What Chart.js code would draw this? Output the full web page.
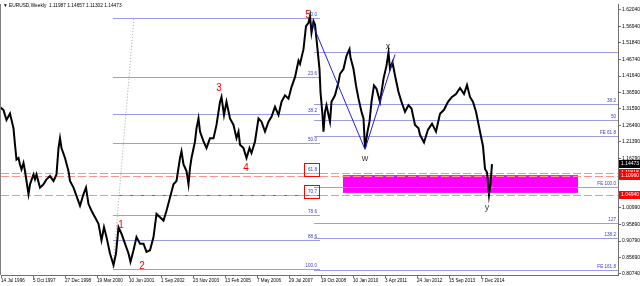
<!DOCTYPE html>
<html><head><meta charset="utf-8">
<script src="https://cdn.jsdelivr.net/npm/chart.js@4/dist/chart.umd.min.js"></script>
<style>html,body{margin:0;padding:0;background:#fff;overflow:hidden}</style>
</head><body><canvas id="c" width="640" height="286"></canvas>
<script>
// ---- data (weeks since 14 Jul 1996, weekly price) ----
const weeks = [-2,5,11,18,25,28,31,35,38,41,45,48,51,55,58,65,68,71,78,85,91,98,105,111,115,118,121,128,135,138,145,151,158,165,170,175,181,188,195,201,206,211,218,225,230,235,241,248,255,259,265,271,278,285,291,298,305,311,318,325,331,338,345,351,358,361,365,371,375,378,381,388,391,395,398,405,411,418,425,431,438,441,446,451,458,465,471,475,478,485,491,497,501,508,515,521,528,535,541,548,555,561,568,575,581,588,595,598,605,610,615,618,621,625,628,633,637,639,643,645,648,651,655,658,661,668,675,678,685,691,697,699,705,710,715,721,725,728,733,737,741,746,751,758,765,771,775,778,783,788,795,801,808,815,821,828,835,838,846,854,862,870,878,886,894,902,910,918,926,932,938,944,950,956,960,964,968,972,976,979,982];
const prices = [1.3214,1.3114,1.2809,1.3010,1.2553,1.2047,1.1590,1.1638,1.1437,1.1285,1.1486,1.1233,1.0928,1.0522,1.0827,1.1132,1.0980,1.1132,1.0724,1.0827,1.0980,1.1080,1.0928,1.1132,1.1943,1.2248,1.1943,1.1638,1.1233,1.0928,1.0724,1.0471,1.0166,1.0522,1.0724,1.0217,1.0013,0.9810,0.9608,0.9099,0.9504,0.9199,0.8693,0.8336,0.8693,0.9504,0.9303,0.8998,0.8693,0.8437,0.8794,0.9199,0.8998,0.8998,0.8742,0.8794,0.9199,0.9913,0.9810,0.9708,1.0013,1.0419,1.0827,1.0928,1.1638,1.1842,1.1437,1.1233,1.0827,1.1333,1.1638,1.2147,1.2553,1.2858,1.2452,1.2147,1.1943,1.2248,1.2248,1.2657,1.3367,1.3519,1.2962,1.3367,1.2858,1.2657,1.2248,1.2452,1.2047,1.1943,1.1638,1.1943,1.1791,1.2147,1.2858,1.2757,1.2452,1.2757,1.2910,1.3214,1.2962,1.3367,1.3571,1.3467,1.3824,1.4129,1.4638,1.4535,1.4992,1.5705,1.5806,1.6019,1.5501,1.5858,1.5754,1.4992,1.4382,1.3672,1.2962,1.2452,1.3062,1.3266,1.2962,1.2757,1.3367,1.3571,1.3977,1.4230,1.4382,1.4791,1.4992,1.4739,1.4382,1.3876,1.3467,1.3062,1.2858,1.1934,1.2452,1.2757,1.3367,1.3876,1.3773,1.3367,1.4077,1.4486,1.4891,1.4382,1.4587,1.4181,1.3672,1.3367,1.3062,1.3266,1.3163,1.2657,1.2553,1.2352,1.2117,1.2514,1.2696,1.2452,1.3001,1.3123,1.3367,1.3519,1.3611,1.3794,1.3611,1.3885,1.3519,1.3367,1.3062,1.2605,1.2300,1.2000,1.1300,1.1200,1.0500,1.0850,1.1447];

const dateTicks = [0,64,128,192,256,320,384,448,512,576,640,704,768,832,896,960];
const dateLabels = ['14 Jul 1996','5 Oct 1997','27 Dec 1998','19 Mar 2000','10 Jun 2001','1 Sep 2002','23 Nov 2003','13 Feb 2005','7 May 2006','29 Jul 2007','19 Oct 2008','10 Jan 2010','3 Apr 2011','24 Jun 2012','15 Sep 2013','7 Dec 2014'];
const priceTicks = [1.62040,1.56940,1.51840,1.46740,1.41640,1.36590,1.31590,1.26490,1.21390,1.16290,1.00990,0.95890,0.90790,0.85690,0.80740];
const priceTickLabels = ['1.62040','1.56940','1.51840','1.46740','1.41640','1.36590','1.31590','1.26490','1.21390','1.16290','1.00990','0.95890','0.90790','0.85690','0.80740'];

// Fibonacci retracement (2000 low -> 2008 high)
const fibLeftRatios = [0,23.6,38.2,50,61.8,70.7,78.6,88.6,100];
const fibLeftLabels = ['0.0','23.6','38.2','50.0','61.8','70.7','78.6','88.6','100.0'];
const fibLeftHigh = 1.5958, fibLeftLow = 0.8230, fibLeftFrom = 224, fibLeftTo = 638;
// Fibonacci expansion (from x)
const fibRightRatios = [0,38.2,50,61.8,100,127,138.2,161.8];
const fibRightLabels = ['','38.2','50','FE 61.8','FE 100.0','127','138.2','FE 161.8'];
const fibRightBase = 1.4894, fibRightRange = 0.4149, fibRightFrom = 626;

const dashedLevels = [1.1182, 1.1096, 1.0494];
const dashedTags = ['1.11818','1.10960','1.04940'];
const lastPrice = 1.14473;
const zoneTop = 1.1111, zoneBottom = 1.0562, zoneFrom = 684, zoneTo = 1154;

const waveNames = ['1','2','3','4','5'];
const waveWeeks = [240,282,436,490,614];
const wavePrices = [0.9556,0.8306,1.3794,1.1324,1.6050];
const letterNames = ['w','x','y'];
const letterWeeks = [728,774,972];
const letterPrices = [1.1629,1.5074,1.0105];

const zigWeeks = [622,728,788];
const zigPrices = [1.5806,1.1903,1.4830];
const diagWeeks = [224,266];
const diagPrices = [0.8245,1.5958];

const title = '\u25BC EURUSD,Weekly  1.11987 1.14657 1.11302 1.14473';

const FONT = '"Liberation Sans", Arial, sans-serif';
const fibLevel = r => fibLeftHigh - r / 100 * (fibLeftHigh - fibLeftLow);

const overlay = {
  id: 'overlay',
  beforeDatasetsDraw(chart) {
    const {ctx, chartArea: a, scales: {x, y}} = chart;
    ctx.save();
    ctx.beginPath(); ctx.rect(a.left, a.top, a.right - a.left, a.bottom - a.top); ctx.clip();
    // zone
    ctx.fillStyle = '#ff00ff';
    const zx1 = x.getPixelForValue(zoneFrom), zx2 = x.getPixelForValue(zoneTo);
    const zy1 = y.getPixelForValue(zoneTop), zy2 = y.getPixelForValue(zoneBottom);
    ctx.fillRect(zx1, zy1, zx2 - zx1, zy2 - zy1);
    // fib lines
    ctx.lineWidth = 1;
    const lx1 = x.getPixelForValue(fibLeftFrom), lx2 = x.getPixelForValue(fibLeftTo);
    fibLeftRatios.forEach(r => {
      const py = Math.round(y.getPixelForValue(fibLevel(r))) + 0.5;
      ctx.strokeStyle = r === 70.7 ? '#d8307a' : '#9c9ce0';
      ctx.beginPath(); ctx.moveTo(lx1, py); ctx.lineTo(lx2, py); ctx.stroke();
    });
    ctx.strokeStyle = '#9c9ce0';
    const rx1 = x.getPixelForValue(fibRightFrom);
    fibRightRatios.forEach(r => {
      const py = Math.round(y.getPixelForValue(fibRightBase - r / 100 * fibRightRange)) + 0.5;
      ctx.beginPath(); ctx.moveTo(rx1, py); ctx.lineTo(a.right, py); ctx.stroke();
    });
    // dashed levels
    ctx.strokeStyle = '#ff9090'; ctx.setLineDash([8, 3]);
    dashedLevels.forEach(v => {
      const py = Math.round(y.getPixelForValue(v)) + 0.5;
      ctx.beginPath(); ctx.moveTo(a.left, py); ctx.lineTo(a.right, py); ctx.stroke();
    });
    // diagonal dotted
    ctx.strokeStyle = '#a0a0a0'; ctx.setLineDash([1, 2]);
    ctx.beginPath();
    ctx.moveTo(x.getPixelForValue(diagWeeks[0]), y.getPixelForValue(diagPrices[0]));
    ctx.lineTo(x.getPixelForValue(diagWeeks[1]), y.getPixelForValue(diagPrices[1]));
    ctx.stroke();
    ctx.setLineDash([]);
    ctx.restore();
  },
  afterDatasetsDraw(chart) {
    const {ctx, chartArea: a, scales: {x, y}} = chart;
    ctx.save();
    // blue zigzag
    ctx.strokeStyle = '#2020e0'; ctx.lineWidth = 1;
    ctx.beginPath();
    zigWeeks.forEach((w, i) => {
      const px = x.getPixelForValue(w), py = y.getPixelForValue(zigPrices[i]);
      i ? ctx.lineTo(px, py) : ctx.moveTo(px, py);
    });
    ctx.stroke();
    // fib labels
    ctx.font = '4.6px ' + FONT; ctx.fillStyle = '#3a3ac0'; ctx.textAlign = 'right'; ctx.textBaseline = 'bottom';
    const lx2 = x.getPixelForValue(fibLeftTo);
    fibLeftRatios.forEach((r, i) => {
      const py = Math.round(y.getPixelForValue(fibLevel(r)));
      ctx.fillText(fibLeftLabels[i], lx2 - 3, py - 1);
      if (i === 4 || i === 5) {
        ctx.strokeStyle = '#ff0000'; ctx.lineWidth = 1;
        ctx.strokeRect(lx2 - 15.5, py - 9.5, 15, 13);
      }
    });
    fibRightRatios.forEach((r, i) => {
      const py = Math.round(y.getPixelForValue(fibRightBase - r / 100 * fibRightRange));
      ctx.fillText(fibRightLabels[i], a.right - 2, py - 1);
    });
    // wave labels
    ctx.textAlign = 'center'; ctx.textBaseline = 'middle';
    ctx.font = '10px ' + FONT; ctx.fillStyle = '#ff0000';
    waveNames.forEach((t, i) => ctx.fillText(t, x.getPixelForValue(waveWeeks[i]), y.getPixelForValue(wavePrices[i])));
    ctx.font = '9px ' + FONT; ctx.fillStyle = '#3c3c3c';
    letterNames.forEach((t, i) => ctx.fillText(t, x.getPixelForValue(letterWeeks[i]), y.getPixelForValue(letterPrices[i])));
    // title
    ctx.font = '4.8px ' + FONT; ctx.fillStyle = '#000'; ctx.textAlign = 'left';
    ctx.fillText(title, 3, 6);
    // left frame
    ctx.strokeStyle = '#808080'; ctx.lineWidth = 1;
    ctx.beginPath(); ctx.moveTo(a.left - 0.5, a.top); ctx.lineTo(a.left - 0.5, a.bottom); ctx.stroke();
    // price tags
    ctx.font = '5px ' + FONT; ctx.textAlign = 'left'; ctx.textBaseline = 'middle';
    dashedLevels.forEach((v, i) => {
      const py = Math.round(y.getPixelForValue(v));
      ctx.fillStyle = '#ff0000'; ctx.fillRect(a.right + 1, py - 4, 21, 8);
      ctx.fillStyle = '#fff'; ctx.fillText(dashedTags[i], a.right + 3, py);
    });
    const lp = Math.round(y.getPixelForValue(lastPrice));
    ctx.fillStyle = '#000'; ctx.fillRect(a.right + 1, lp - 4, 21, 8);
    ctx.fillStyle = '#fff'; ctx.fillText(lastPrice.toFixed(5), a.right + 3, lp);
    ctx.restore();
  }
};

new Chart(document.getElementById('c'), {
  type: 'line',
  data: { datasets: [{
    data: weeks.map((w, i) => ({x: w, y: prices[i]})),
    borderColor: '#000', borderWidth: 2, pointRadius: 0, tension: 0
  }]},
  options: {
    responsive: false, animation: false, devicePixelRatio: 1,
    layout: { padding: { left: 1, top: 1, right: 0, bottom: 0 } },
    plugins: { legend: { display: false }, tooltip: { enabled: false } },
    scales: {
      x: {
        type: 'linear', min: 0, max: 1234,
        afterBuildTicks: s => { s.ticks = dateTicks.map(v => ({value: v})); },
        afterFit: s => { s.height = 11; },
        ticks: { autoSkip: false, maxRotation: 0, align: 'start', padding: 0, color: '#000',
                 font: { size: 4.6, family: FONT }, callback: (v, i) => dateLabels[i] },
        grid: { drawOnChartArea: false, drawTicks: true, tickLength: 3, color: '#707070' },
        border: { display: true, color: '#707070' }
      },
      y: {
        type: 'linear', position: 'right', min: 0.8031, max: 1.6385,
        afterBuildTicks: s => { s.ticks = priceTicks.map(v => ({value: v})); },
        afterFit: s => { s.width = 22; },
        ticks: { autoSkip: false, padding: 1, color: '#000',
                 font: { size: 5, family: FONT }, callback: (v, i) => priceTickLabels[i] },
        grid: { drawOnChartArea: false, drawTicks: true, tickLength: 3, color: '#707070' },
        border: { display: true, color: '#707070' }
      }
    }
  },
  plugins: [overlay]
});
</script>
</body></html>
